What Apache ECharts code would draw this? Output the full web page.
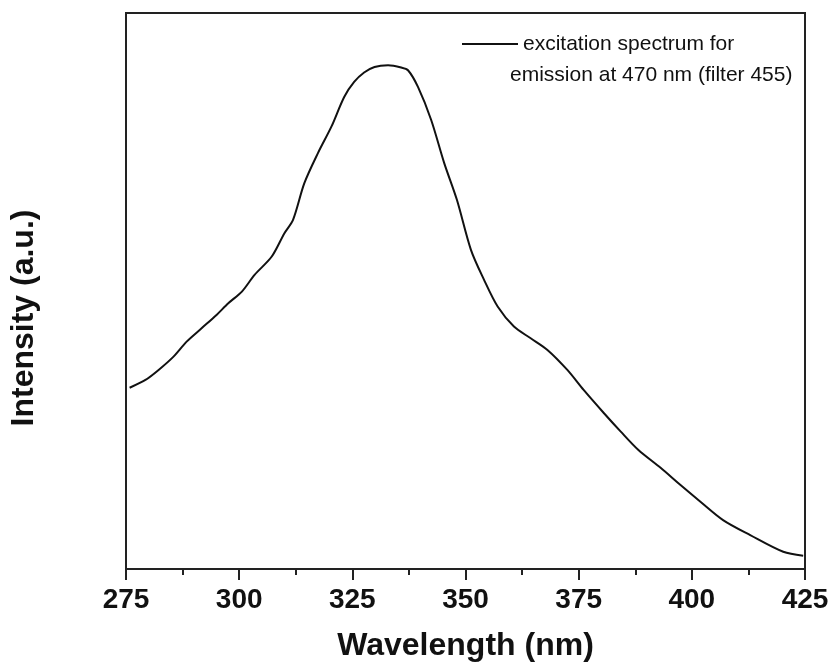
<!DOCTYPE html>
<html>
<head>
<meta charset="utf-8">
<script src="https://cdn.jsdelivr.net/npm/echarts@6/dist/echarts.min.js"></script>
<style>
    html, body { margin: 0; padding: 0; background: #fff; }
    #chart { width: 835px; height: 671px; }
</style>
</head>
<body>
<div id="chart"></div>
<script>
    // wavelength (nm)
    var wavelength = [275.8, 279.3, 282.2, 285.5, 288.4, 291.7, 295.0, 297.6, 300.6, 303.4,
        307.2, 310.0, 311.9, 314.4, 317.4, 320.4, 323.2, 325.4, 327.6, 329.9,
        332.9, 335.8, 337.3, 339.5, 342.4, 345.3, 348.1, 351.2, 354.1, 357.1,
        360.7, 364.4, 368.1, 372.5, 376.1, 380.5, 384.3, 388.2, 393.1, 397.5,
        401.9, 406.9, 412.9, 420.2, 424.6];
    // intensity (a.u.), 0..100 scale
    var intensity = [32.6, 34.0, 35.8, 38.2, 40.9, 43.3, 45.7, 47.8, 49.9, 52.9,
        56.2, 60.4, 62.8, 69.4, 74.8, 79.6, 84.9, 87.6, 89.3, 90.3,
        90.6, 90.2, 89.7, 86.7, 80.8, 73.0, 66.4, 57.4, 52.0, 47.2,
        43.6, 41.5, 39.4, 35.8, 32.2, 28.1, 24.7, 21.4, 18.2, 15.1,
        12.1, 8.8, 6.1, 3.1, 2.4];
    var seriesName = 'excitation spectrum for';
    var legendLine2 = 'emission at 470 nm (filter 455)';

    var font = 'Liberation Sans, Arial, Helvetica, sans-serif';
    var data = [];
    for (var i = 0; i < wavelength.length; i++) {
        data.push([wavelength[i], intensity[i]]);
    }

    var myChart = echarts.init(document.getElementById('chart'));
    var option = {
        animation: false,
        backgroundColor: '#fff',
        grid: {
            left: 124,
            right: 30,
            top: 13,
            bottom: 102,
            show: true,
            borderColor: '#222',
            borderWidth: 2
        },
        legend: {
            left: 457,
            top: 27,
            itemWidth: 56,
            itemHeight: 2,
            itemGap: 0,
            data: [{name: seriesName, icon: 'rect'}],
            textStyle: {
                fontFamily: font,
                fontSize: 21,
                color: '#111',
                lineHeight: 24
            }
        },
        graphic: [{
            type: 'text',
            left: 510,
            top: 65,
            style: {
                text: legendLine2,
                fontFamily: font,
                fontSize: 21,
                fill: '#111'
            }
        }],
        xAxis: {
            type: 'value',
            min: 275,
            max: 425,
            interval: 25,
            name: 'Wavelength (nm)',
            nameLocation: 'middle',
            nameGap: 61,
            nameTextStyle: {
                fontFamily: font,
                fontSize: 32,
                fontWeight: 'bold',
                color: '#111'
            },
            axisLine: {lineStyle: {color: '#222', width: 2}},
            axisTick: {length: 11, lineStyle: {color: '#222', width: 2}},
            minorTick: {show: true, splitNumber: 2, length: 6, lineStyle: {color: '#222', width: 2}},
            splitLine: {show: false},
            axisLabel: {
                margin: 17,
                fontFamily: font,
                fontSize: 28,
                fontWeight: 'bold',
                color: '#111'
            }
        },
        yAxis: {
            type: 'value',
            min: 0,
            max: 100,
            name: 'Intensity (a.u.)',
            nameLocation: 'middle',
            nameGap: 86,
            nameTextStyle: {
                fontFamily: font,
                fontSize: 32,
                fontWeight: 'bold',
                color: '#111',
                padding: [0, 54, 0, 0]
            },
            axisLine: {show: true, lineStyle: {color: '#222', width: 2}},
            axisTick: {show: false},
            axisLabel: {show: false},
            splitLine: {show: false}
        },
        series: [{
            name: seriesName,
            type: 'line',
            data: data,
            smooth: 0.3,
            showSymbol: false,
            lineStyle: {color: '#111', width: 2},
            itemStyle: {color: '#111'}
        }]
    };
    myChart.setOption(option);
</script>
</body>
</html>
